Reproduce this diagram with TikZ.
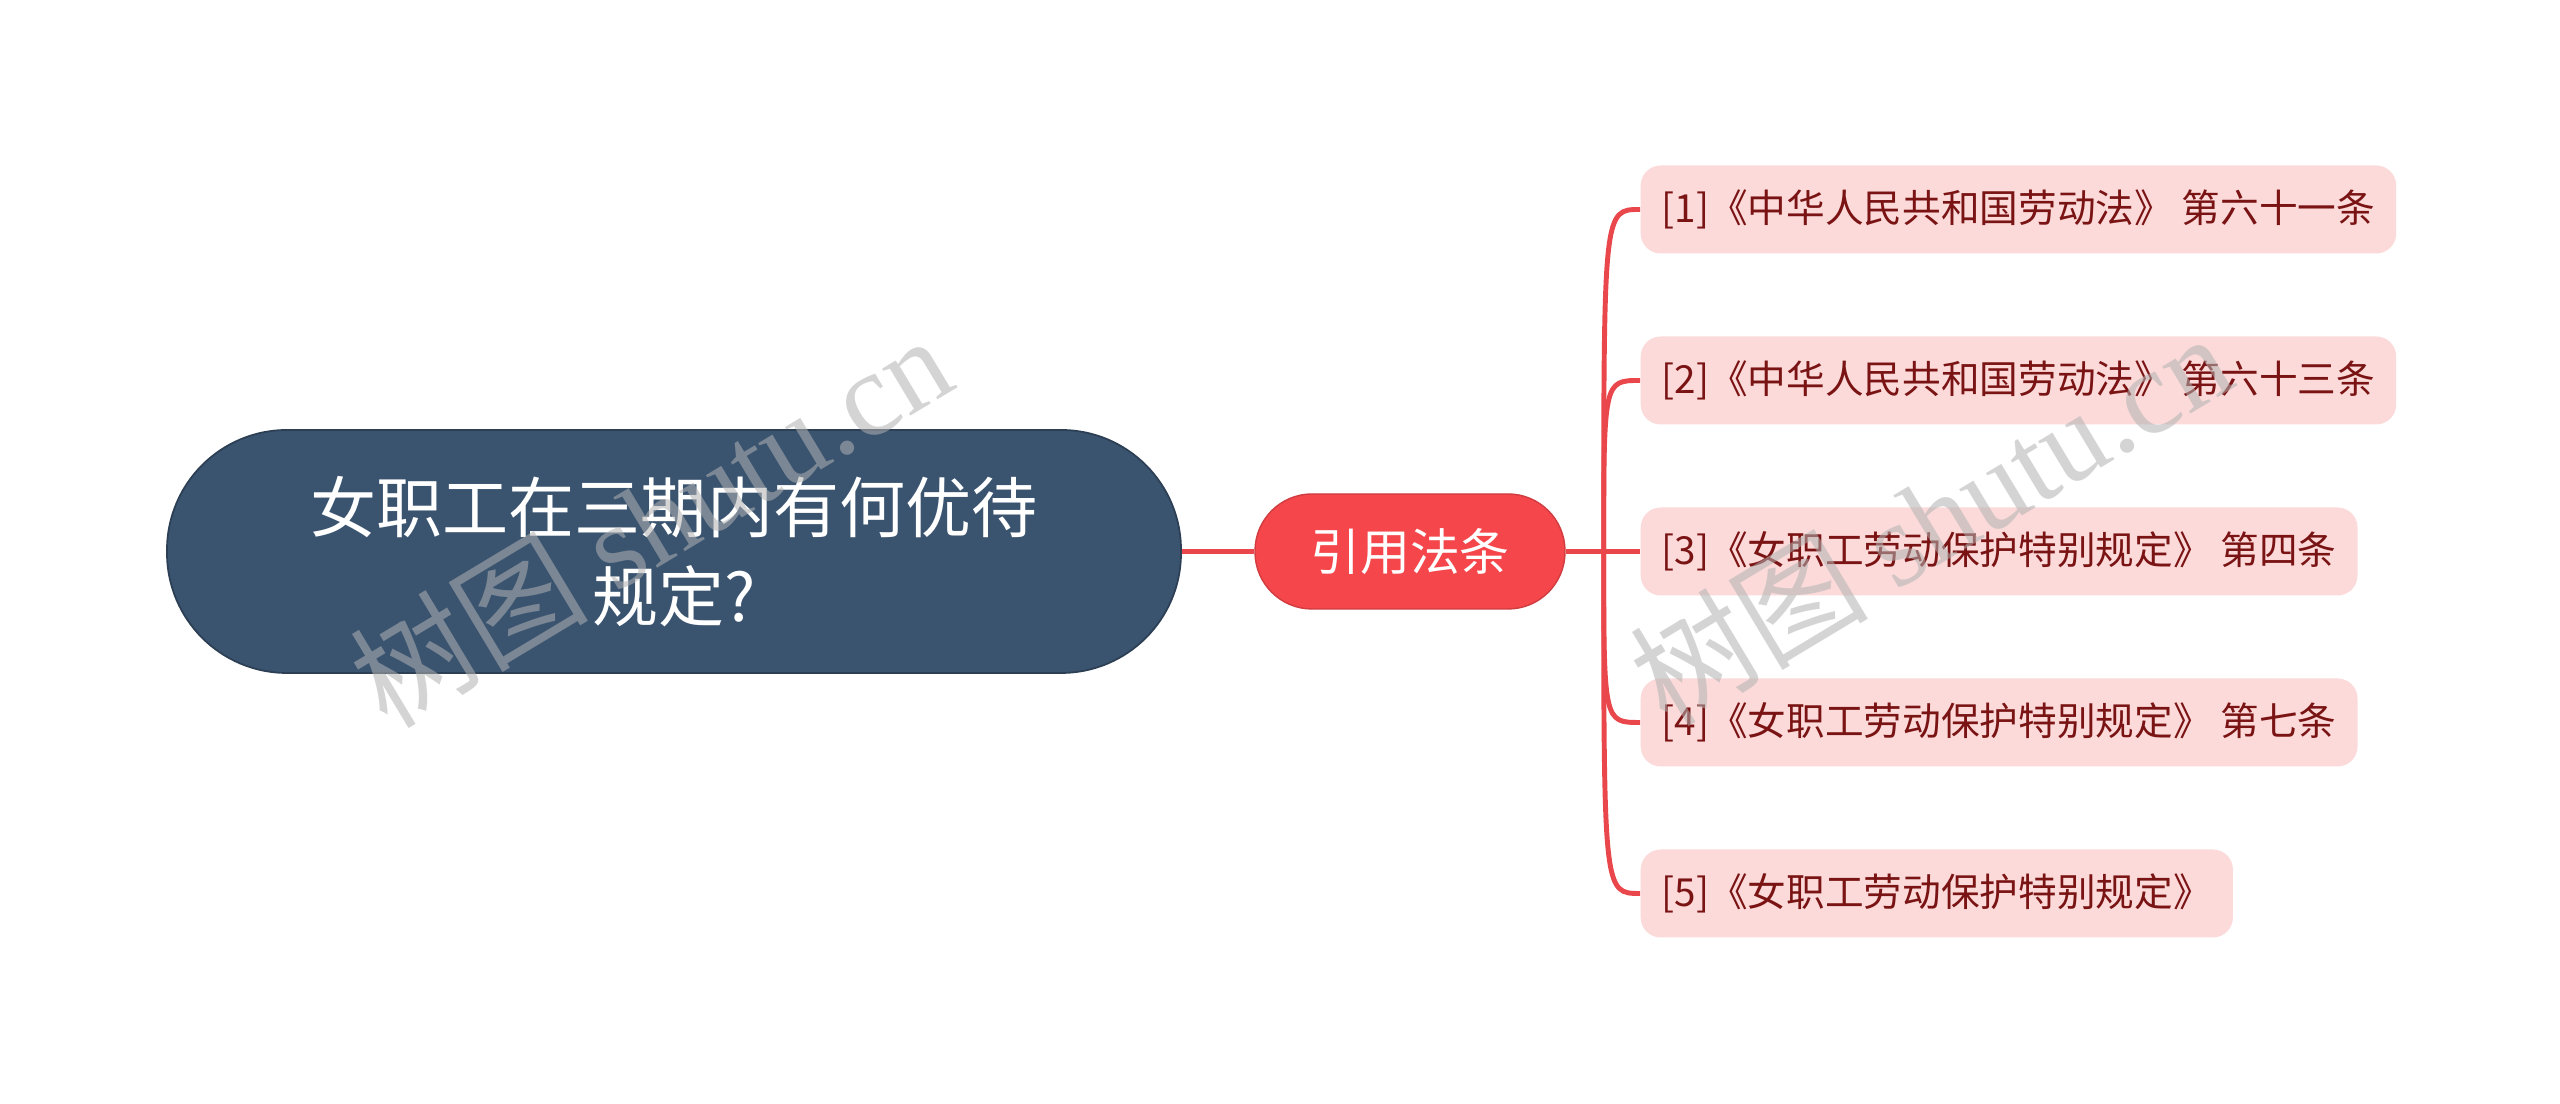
\documentclass[tikz,border=0pt]{standalone}
\usepackage{fontspec}
\setmainfont{Noto Sans CJK SC}
\newfontfamily\wmserif{Liberation Serif}
\usepackage{xcolor}
\usepackage{tikz}
\usetikzlibrary{positioning}
\definecolor{rootblue}{HTML}{3A5470}
\definecolor{topicred}{HTML}{F5474B}
\definecolor{linkred}{HTML}{E9474B}
\definecolor{refpink}{HTML}{FCDADA}
\definecolor{reftext}{HTML}{7A1414}
\tikzset{font={\fontsize{11pt}{14}\selectfont}}
\tikzset{
  rootnode/.style={fill=rootblue, draw=rootblue!75!black, line width=0.5pt,
    rounded corners=1.2cm, minimum width=10.14cm, minimum height=2.43cm,
    text=white, align=center, font={\fontsize{18.8pt}{25.3pt}\selectfont}},
  topicnode/.style={fill=topicred, draw=topicred!85!black, line width=0.4pt,
    rounded corners=0.57cm, minimum width=3.1cm, minimum height=1.15cm,
    text=white, font={\fontsize{14.2pt}{17}\selectfont}},
  refnode/.style={fill=refpink, rounded corners=0.2cm, minimum height=0.88cm,
    inner xsep=0.21cm, anchor=west, text=reftext,
    font={\fontsize{11pt}{14}\selectfont}},
  link/.style={draw=linkred, line width=1.4pt},
  watermark/.style={rotate=31, text=gray!60, text opacity=0.55,
    font={\fontsize{34pt}{40}\selectfont}}
}

\begin{document}
\begin{tikzpicture}

%canvas
\fill[white] (0,0) rectangle (25.6,11.04);
\useasboundingbox (0,0) rectangle (25.6,11.04);

%central topic
\node[rootnode] at (6.74,5.525) (root) {女职工在三期内有何优待\\规定?};
\node[topicnode] at (14.10,5.525) (topic) {引用法条};

%references
\node[refnode] at (16.40,8.945) (ref1) {[1]《中华人民共和国劳动法》 第六十一条};
\node[refnode] at (16.40,7.235) (ref2) {[2]《中华人民共和国劳动法》 第六十三条};
\node[refnode] at (16.40,5.525) (ref3) {[3]《女职工劳动保护特别规定》 第四条};
\node[refnode] at (16.40,3.815) (ref4) {[4]《女职工劳动保护特别规定》 第七条};
\node[refnode] at (16.40,2.105) (ref5) {[5]《女职工劳动保护特别规定》};

%connectors
\coordinate[right=0.38cm of topic] (hub);
\draw[link] (root) -- (topic);
\draw[link] (topic) -- (hub);
\foreach \i in {1,...,5}
  \draw[link] (hub) .. controls (hub |- ref\i.west) .. (ref\i.west);

%watermarks
\node[watermark] at (6.50,5.84) (wm1) {树图 {\wmserif shutu.cn}};
\node[watermark] at (19.30,5.86) (wm2) {树图 {\wmserif shutu.cn}};

\end{tikzpicture}
\end{document}
